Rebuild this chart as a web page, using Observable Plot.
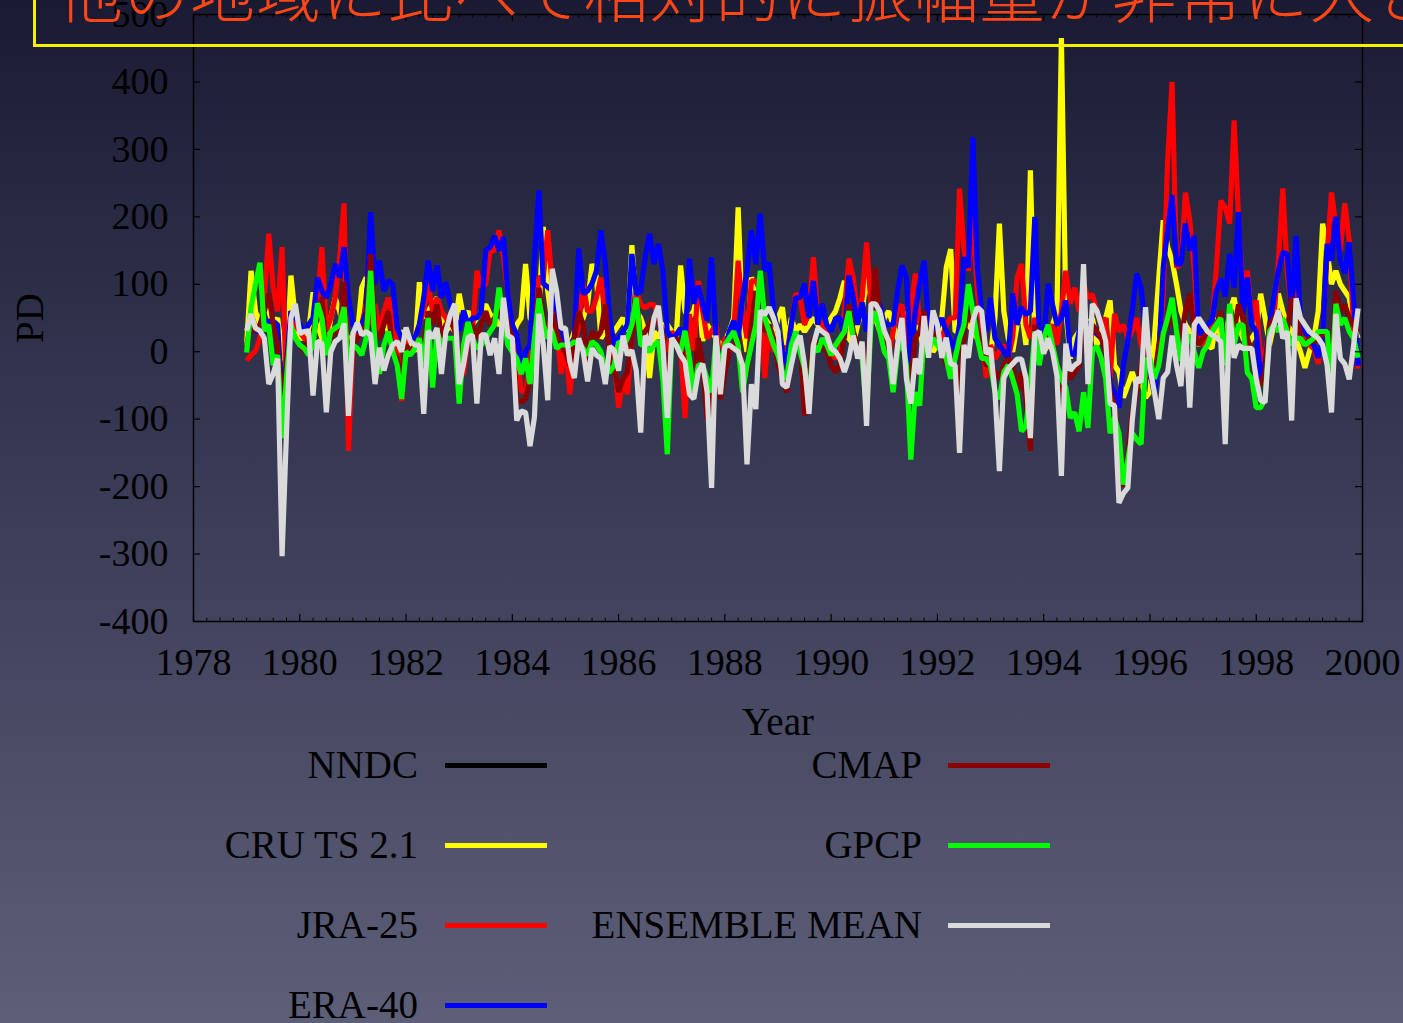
<!DOCTYPE html>
<html>
<head>
<meta charset="utf-8">
<script src="https://cdn.jsdelivr.net/npm/d3@7"></script>
<script src="https://cdn.jsdelivr.net/npm/@observablehq/plot@0.6"></script>
<style>
  html, body { margin: 0; padding: 0; }
  body {
    width: 1403px; height: 1023px; overflow: hidden; position: relative;
    background: linear-gradient(to bottom, #1a1b33 0%, #383954 45%, #5d5f78 100%);
    font-family: "Liberation Serif", "Times New Roman", serif;
  }
  #chart { position: absolute; left: 0; top: 0; }
  #title {
    position: absolute; left: 33px; top: -70px; width: 1420px; height: 117px;
    box-sizing: border-box; border: 3px solid #f4f000; pointer-events: none;
  }
  #title span {
    position: absolute; left: 22px; top: 24px; white-space: nowrap;
    font-family: "Noto Sans CJK JP", sans-serif; font-weight: 300;
    font-size: 65px; line-height: 65px; letter-spacing: 1px; color: rgb(255, 70, 22);
  }
  .lg-label {
    position: absolute; font-size: 39px; line-height: 40px; color: #000;
    text-align: right; white-space: nowrap;
  }
  .lg-line { position: absolute; height: 5px; width: 102px; }
</style>
</head>
<body>
<div id="chart"></div>
<div id="title"><span>他の地域に比べて相対的に振幅量が非常に大きい</span></div>
<div id="legend"></div>
<script>
// Monthly PD anomalies, January 1979 to December 1999 (ten months per row)
const CRU = [
  10, 120, 60, 40, 70, 60, 40, 50, 0, -20,
  113, 50, 20, 20, 30, 88, 40, 20, 10, 50,
  80, 60, 30, 20, 20, 25, 95, 110, 80, 30,
  40, 50, 30, 20, 25, 30, 20, 10, 0, 103,
  50, 60, 70, 80, 50, 30, 40, 30, 86, 50,
  60, 40, 50, 60, 70, 55, 50, 40, 40, 30,
  20, 40, 50, 130, 50, 40, 60, 185, 90, 40,
  20, 15, 10, 10, 30, 40, 50, 70, 130, 110,
  20, 30, 25, 30, 40, 50, 30, 158, 60, 50,
  30, -39, 30, 20, 40, 40, 30, 20, 128, 60,
  50, 61, 90, 16, 40, 30, 20, 10, 15, 30,
  50, 214, 40, 0, 110, 95, 60, 50, 40, 20,
  50, 66, 10, 50, 30, 40, 30, 40, 50, 40,
  30, 40, 50, 60, 80, 105, 20, 10, 40, 60,
  110, 80, 50, 30, 50, 60, 40, 20, 10, 60,
  40, 50, 30, 0, 30, 0, 10, 50, 125, 152,
  30, 30, 60, 40, 30, 20, 10, 0, -5, 50,
  190, 60, 20, 0, 40, 60, 10, 269, 20, 30,
  0, 10, 40, 60, 465, 60, -10, 20, 30, 30,
  40, 50, 10, 30, 50, 76, -20, -30, -68, -50,
  -30, -50, -40, -68, -60, 20, 110, 195, 155, 135,
  100, 60, 40, 30, 20, 10, 20, 10, 5, 50,
  20, 10, 60, 80, 40, 20, 10, 20, 30, 86,
  50, 10, 40, 86, 60, 40, 30, 20, 0, -24,
  0, 20, 60, 190, 150, 100, 120, 100, 90, 80,
  40, 20
];
const JRA25 = [
  -13, -5, 1, 20, 80, 175, 95, 60, 155, -60,
  60, 40, 30, 20, 15, 10, 71, 155, 30, 50,
  80, 140, 220, -147, 10, 30, 40, 70, 40, 71,
  30, 60, 80, 50, 10, -73, 20, 15, 20, 40,
  60, 101, 60, 80, 60, 50, 40, 40, -33, -33,
  20, 30, 120, 95, 100, 150, 150, 180, 140, 86,
  40, 0, -58, -60, -20, 40, 110, 110, 180, 100,
  40, -33, 10, -63, 10, 40, 101, 60, 60, 80,
  110, 60, 30, -10, -83, -40, -63, 20, 90, 70,
  65, 70, 70, 50, 20, 0, 30, 20, 10, -98,
  56, 1, 105, 60, 20, 30, 40, -20, 20, 20,
  30, 135, 60, 20, 105, 105, 90, -39, 40, 0,
  10, 0, -5, 40, 86, 80, 40, 60, 140, 50,
  40, 30, 0, -10, -5, 60, 138, 110, 50, 80,
  162, 70, 70, 30, 10, -5, 30, 60, 70, 10,
  60, 116, 40, 50, 30, 20, 30, 20, 40, 50,
  50, 242, 150, 120, 200, 90, 40, -39, 10, -10,
  0, 10, -10, 21, 110, 130, 40, 20, 50, 30,
  10, 30, 40, 10, 60, 120, 71, 95, 60, 101,
  80, 85, 60, 40, 50, -39, 56, 30, 40, 20,
  30, 50, 10, -3, -40, -30, -10, 86, 284, 400,
  125, 130, 236, 195, 120, 21, 10, 20, 40, 125,
  224, 214, 190, 343, 200, 86, 120, 46, 76, -13,
  0, 30, 50, 135, 242, 120, 60, 90, 20, 20,
  10, 5, -18, 30, 145, 236, 185, 150, 220, 165,
  30, -25
];
const ERA40 = [
  30, 35, 30, 30, 40, 45, 45, 40, -68, -20,
  60, 50, 40, 30, 40, 50, 110, 90, 80, 100,
  130, 110, 155, 80, 40, 30, 40, 60, 207, 100,
  135, 90, 105, 100, 35, 20, 25, 20, 20, 40,
  80, 135, 90, 128, 80, 103, 70, 50, 31, 61,
  40, 50, 50, 60, 150, 155, 172, 150, 170, 86,
  40, 25, -18, 0, 10, 140, 239, 101, 96, 90,
  50, 20, 10, 10, 20, 153, 86, 90, 101, 120,
  180, 130, 50, 10, 20, 30, 40, 145, 85, 90,
  140, 175, 130, 160, 120, 30, 20, 25, 35, 10,
  138, 71, 98, 70, 46, 140, 20, -18, 0, 30,
  46, 20, 80, 120, 180, 130, 205, 120, 132, 60,
  30, 0, -18, 40, 80, 80, 101, 50, 105, 40,
  71, 40, 30, 50, 50, 20, 113, 80, 40, 73,
  30, 60, 71, 70, 40, 40, 40, 90, 128, 110,
  -18, 60, 101, 135, 40, 35, 35, 50, 30, 16,
  3, 40, 140, 125, 318, 125, 60, 30, 80, 20,
  10, 0, -10, 86, 40, 66, 55, 60, 200, 26,
  15, 101, 70, 40, 50, 76, -3, -5, 30, 50,
  40, 35, 26, 20, 10, -48, -60, -83, -20, 16,
  60, 116, 95, 31, -30, -63, -13, 125, 180, 232,
  130, 130, 190, 150, 172, 26, 30, 40, 46, 90,
  108, 82, 145, 95, 207, 56, 110, 40, 30, -39,
  -20, 40, 80, 120, 147, 145, 60, 172, 46, 30,
  20, 10, -9, 20, 160, 135, 200, 135, 116, 162,
  76, -21
];
const CMAP = [
  10, 40, 30, 40, 60, 86, 40, 10, -80, -20,
  30, 20, 10, 0, 20, 30, 50, 80, 0, 20,
  30, 30, 103, -30, 10, 20, 30, 40, 145, 30,
  20, 40, 60, 0, -10, -40, 10, 0, 10, 20,
  0, 60, 40, 70, 20, 40, 50, 30, -20, 10,
  30, 40, 20, 40, 60, 40, 50, 60, 70, 40,
  20, -70, -75, -70, -40, 20, 95, 50, 20, 60,
  30, 10, 0, -20, 20, 60, 40, -20, 30, 20,
  30, 70, -10, -20, -60, -40, -30, 20, 80, 20,
  30, 40, 50, 60, 20, -60, 10, 20, 10, -20,
  -40, -50, 20, -20, -100, -60, 10, -70, -30, 0,
  10, 20, -30, -30, 40, 90, 60, 30, 40, 20,
  -20, -40, -60, 0, 20, 20, -95, -40, 20, 10,
  10, 0, -20, -30, -20, 30, 70, 30, 10, 0,
  -40, 50, 125, 40, 20, 0, -40, 10, 40, -30,
  -40, 20, 30, 60, 10, 30, 20, 10, -20, -20,
  -30, -60, 30, 60, 40, 30, 20, -20, -20, -30,
  -40, -20, -10, -20, -60, -30, -70, -147, 40, -10,
  20, 30, 10, -20, -60, -30, -40, -30, -20, 80,
  -20, 40, 30, 20, 0, -60, -80, -150, -200, -150,
  -90, -60, -20, 20, -20, -40, 10, 30, 40, 50,
  30, 20, 60, 86, 30, 10, 20, 30, 30, 40,
  60, -20, 60, 30, 70, 50, 20, 0, -40, -50,
  -30, 40, 50, 60, 40, 30, 80, 60, 20, 10,
  20, 15, 20, 30, 20, -20, 90, 60, 70, 50,
  40, 30
];
const GPCP = [
  -1, 66, 100, 132, 31, 40, -20, -5, -128, -40,
  40, 20, 10, 5, -5, 10, 72, 50, -5, 30,
  35, 40, 66, -20, 10, 5, -5, 20, 120, 10,
  -33, 10, 30, 0, -20, -70, 0, -5, 5, 20,
  -20, 50, -53, 30, 10, 20, 20, 20, -77, 10,
  44, 20, 5, 10, 20, 30, 40, 95, 50, 10,
  0, -10, -33, -10, -48, 20, 79, 40, 20, 30,
  5, 10, 10, 10, 15, 10, 5, -5, 15, 10,
  0, -28, -30, -20, 15, 10, 20, 40, 80, 10,
  10, 0, 10, 15, -40, -152, 20, 10, 0, 31,
  -10, -60, -20, -20, -40, -60, 20, -30, 10, 20,
  30, 10, -60, -20, 10, 40, 120, 50, 30, 10,
  -5, -30, -40, 10, 30, 0, -25, -70, 10, 0,
  20, 10, -5, 10, 20, 30, 60, 20, 0, -10,
  -90, 40, 60, 30, 0, -10, -60, 0, 20, -20,
  -160, -60, -80, 30, 0, 20, 10, 0, -10, -40,
  -10, 20, 40, 100, 60, 20, -10, -10, -20, -60,
  -70, -30, -20, -40, -63, -118, -110, -50, 30, -20,
  20, 40, 10, -20, -40, -53, -98, -90, -118, -60,
  -113, 1, 8, -10, -40, -121, -97, -121, -197, -160,
  -121, -130, -137, -13, -10, -40, -20, 26, 50, 80,
  30, -13, 10, 25, 0, -24, 0, 10, 30, 40,
  50, -20, 71, 10, 40, 40, -31, -40, -83, -83,
  -70, 30, 40, 30, 50, 30, 10, 20, 20, 10,
  15, 20, 30, 30, 30, -43, 71, 40, 50, 30,
  20, -9
];
const ENSEMBLE = [
  31, 56, 35, 31, 20, -48, -33, -10, -303, -120,
  50, 71, 27, 30, 31, -65, 16, 12, -90, 0,
  15, 20, 42, -95, 27, 43, 25, 30, 25, -48,
  6, -28, -5, 10, 15, 0, 36, 15, 10, 10,
  -92, 31, 20, 35, -33, 30, 55, 71, -48, -18,
  21, 25, -77, 25, 25, -5, 20, -33, 80, 24,
  20, -102, -88, -90, -140, -97, 56, 10, -72, 123,
  90, 35, 35, -15, -39, 20, 0, -44, 5, -5,
  -10, -48, 8, 2, -28, 24, -5, 2, -28, -120,
  24, 10, 50, 68, 10, -98, 20, 10, -5, -15,
  -63, -70, -30, -18, -60, -202, 24, -63, 7, 10,
  5, 0, -20, -167, -48, -85, 61, 55, 66, 50,
  30, -48, -53, -20, 10, 24, -20, -92, 10, 35,
  30, 25, 5, 0, -10, -30, -10, 24, -10, 15,
  -110, 71, 71, 60, 31, 15, -48, 10, 50, -40,
  -77, -10, -33, 53, -9, 61, 40, -9, 21, -18,
  -20, -150, 10, -9, 46, 66, 60, -3, 5, -60,
  -177, -39, -25, -18, -11, -11, -39, -128, 26, 30,
  -3, 20, 0, -36, -184, 12, -28, -20, -15, 130,
  -48, 71, 61, 40, 16, -77, -80, -224, -210, -202,
  -102, -39, -45, 66, -24, -60, -100, -39, -30, 24,
  -20, -51, 42, -83, 40, 50, 40, 30, 25, 21,
  15, -137, 56, -9, 10, 5, 5, 5, -40, -72,
  -75, 20, 40, 61, 20, 30, -102, 79, 50, 40,
  30, 25, 20, 10, -20, -90, 56, -10, -18, -41,
  10, 64
];
const NNDC = [];

// Legend entries in key order, and axis ticks
const seriesNames = ["NNDC", "CRU TS 2.1", "JRA-25", "ERA-40", "CMAP", "GPCP", "ENSEMBLE MEAN"];
const seriesColors = ["#000000", "#ffff00", "#ff0000", "#0000ff", "#8b0000", "#00ff00", "#dadada"];
const seriesValues = [NNDC, CRU, JRA25, ERA40, CMAP, GPCP, ENSEMBLE];
const yearTicks = [1978, 1980, 1982, 1984, 1986, 1988, 1990, 1992, 1994, 1996, 1998, 2000];
const pdTicks = [-400, -300, -200, -100, 0, 100, 200, 300, 400, 500];
const firstYear = 1979;

// Layout
const W = 1403, H = 745, mL = 193, mR = 41, mT = 14, mB = 124;
const innerH = H - mT - mB;
const innerW = W - mL - mR;
const minorYears = d3.range(1978, 2000.001, 0.25).filter(v => Math.abs(v / 2 - Math.round(v / 2)) > 1e-6);

const lineMarks = seriesValues.map((vals, k) =>
  Plot.line(vals, {
    x: (d, i) => firstYear + i / 12,
    y: d => d,
    stroke: seriesColors[k],
    strokeWidth: 5.2,
    strokeLinejoin: "miter",
    strokeLinecap: "butt"
  })
);

const chart = Plot.plot({
  width: W, height: H,
  marginLeft: mL, marginRight: mR, marginTop: mT, marginBottom: mB,
  style: {
    background: "transparent", color: "black", overflow: "visible",
    fontFamily: "'Liberation Serif', 'Times New Roman', serif", fontSize: "38px"
  },
  x: {domain: [1978, 2000]},
  y: {domain: [-400, 500]},
  marks: [
    ...lineMarks,
    Plot.frame({stroke: "black", strokeWidth: 1.5}),
    // inward ticks on all four sides
    Plot.tickX(yearTicks, {x: d => d, insetTop: innerH - 7, stroke: "black", strokeWidth: 1.2}),
    Plot.tickX(yearTicks, {x: d => d, insetBottom: innerH - 7, stroke: "black", strokeWidth: 1.2}),
    Plot.tickX(minorYears, {x: d => d, insetTop: innerH - 3.5, stroke: "black", strokeWidth: 1}),
    Plot.tickX(minorYears, {x: d => d, insetBottom: innerH - 3.5, stroke: "black", strokeWidth: 1}),
    Plot.tickY(pdTicks, {y: d => d, insetRight: innerW - 7, stroke: "black", strokeWidth: 1.2}),
    Plot.tickY(pdTicks, {y: d => d, insetLeft: innerW - 7, stroke: "black", strokeWidth: 1.2}),
    Plot.axisX({ticks: yearTicks, tickSize: 0, tickPadding: 27, tickFormat: d => String(d), label: null}),
    Plot.axisY({ticks: pdTicks, tickSize: 0, tickPadding: 25, tickFormat: d => String(d), label: null}),
    Plot.text(["Year"], {text: d => d, frameAnchor: "bottom", dy: 113, fontSize: 39}),
    Plot.text(["PD"], {text: d => d, frameAnchor: "left", dx: -163, rotate: -90, fontSize: 39, textAnchor: "middle"})
  ]
});
document.getElementById("chart").appendChild(chart);

// Two-column key below the chart
const legend = document.getElementById("legend");
const colTextRight = [418, 922];
const colLineLeft = [445, 948];
const rowCenters = [765, 845, 925, 1005];
seriesNames.forEach((name, k) => {
  const col = k < 4 ? 0 : 1;
  const row = k < 4 ? k : k - 4;
  const label = document.createElement("div");
  label.className = "lg-label";
  label.textContent = name;
  label.style.right = (1403 - colTextRight[col]) + "px";
  label.style.top = (rowCenters[row] - 20) + "px";
  legend.appendChild(label);
  const sw = document.createElement("div");
  sw.className = "lg-line";
  sw.style.left = colLineLeft[col] + "px";
  sw.style.top = (rowCenters[row] - 2.5) + "px";
  sw.style.background = seriesColors[k];
  legend.appendChild(sw);
});
</script>
</body>
</html>
